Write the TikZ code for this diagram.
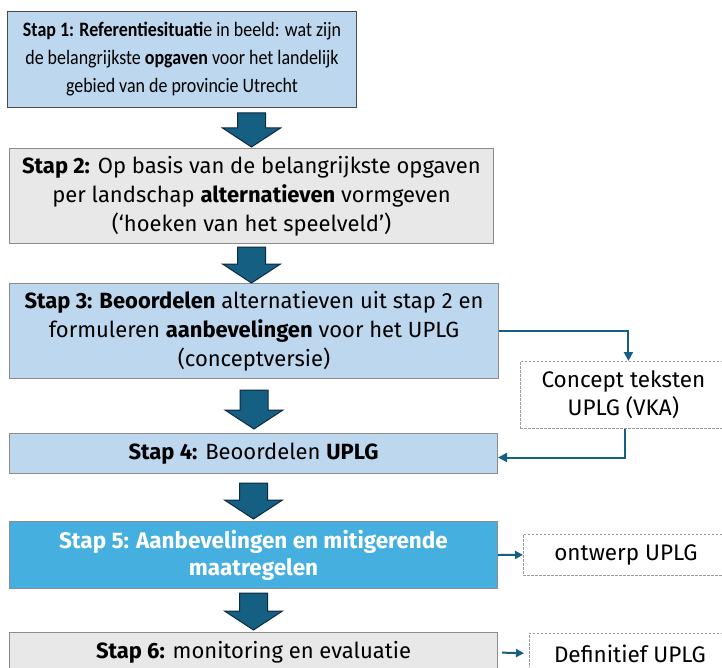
\documentclass[tikz,border=0pt]{standalone}
\usepackage{fontspec}
\setmainfont{Fira Sans}
\newfontfamily\narrowfont[FakeStretch=0.875]{Carlito}
\usetikzlibrary{calc,arrows.meta}

\definecolor{stepblue}{HTML}{BDD7EE}
\definecolor{stepgray}{HTML}{E8E8E8}
\definecolor{stepcyan}{HTML}{45AFE0}
\definecolor{boxline}{HTML}{8C8C8C}
\definecolor{darkline}{HTML}{4A4A4A}
\definecolor{flowfill}{HTML}{156082}
\definecolor{flowline}{HTML}{0E2841}
\definecolor{dashline}{HTML}{9A9A9A}

% broad downward block arrow between two points
\newcommand\blockarrow[2]{%
  \filldraw[fill=flowfill, draw=flowline, line width=1pt, line join=miter]
    let \p1=(#1), \p2=(#2) in
    (\x1-14pt,\y1) -- (\x1+14pt,\y1) -- (\x1+14pt,\y2+19pt) -- (\x1+29pt,\y2+19pt)
    -- (\x1,\y2) -- (\x1-29pt,\y2+19pt) -- (\x1-14pt,\y2+19pt) -- cycle;}

\begin{document}
\begin{tikzpicture}[x=1pt,y=-1pt,
  stepbox/.style={draw=boxline, line width=1pt, anchor=north west, inner sep=0pt,
    align=center, font=\fontsize{22}{29}\selectfont},
  outbox/.style={draw=dashline, line width=0.8pt, dash pattern=on 2.5pt off 1.5pt,
    anchor=north west, inner sep=0pt, align=center, font=\fontsize{22.5}{28}\selectfont},
  link/.style={draw=flowfill, line width=2pt,
    -{Triangle[length=9pt,width=9pt]}},
  shortlink/.style={draw=flowfill, line width=2pt,
    -{Triangle[length=8pt,width=8pt]}}]

\useasboundingbox (0,0) rectangle (722,668);
\clip (0,0) rectangle (722,668);

% process steps
\node[stepbox, draw=darkline, fill=stepblue, minimum width=349pt, minimum height=96pt,
  font=\narrowfont\fontsize{20.5}{28}\selectfont] (s1) at (7,11)
  {\textbf{Stap 1: Referentiesituati}e in beeld: wat zijn\\
   de belangrijkste \textbf{opgaven} voor het landelijk\\
   gebied van de provincie Utrecht};
\node[stepbox, fill=stepgray, minimum width=484pt, minimum height=95pt] (s2) at (9,148)
  {\textbf{Stap 2:} Op basis van de belangrijkste opgaven\\
   per landschap \textbf{alternatieven} vormgeven\\
   (‘hoeken van het speelveld’)};
\node[stepbox, fill=stepblue, minimum width=489pt, minimum height=95pt] (s3) at (9,283)
  {\textbf{Stap 3: Beoordelen} alternatieven uit stap 2 en\\
   formuleren \textbf{aanbevelingen} voor het UPLG\\
   (conceptversie)};
\node[stepbox, fill=stepblue, minimum width=488pt, minimum height=40pt] (s4) at (9,433)
  {\textbf{Stap 4:} Beoordelen \textbf{UPLG}};
\node[stepbox, fill=stepcyan, text=white, minimum width=488pt, minimum height=67pt,
  font=\bfseries\fontsize{22.5}{27}\selectfont] (s5) at (9,521)
  {Stap 5: Aanbevelingen en mitigerende\\ maatregelen};
\node[stepbox, fill=stepgray, minimum width=488pt, minimum height=40pt] (s6) at (9,632)
  {\textbf{Stap 6:} monitoring en evaluatie};

% products
\node[outbox, minimum width=206pt, minimum height=67pt] (c1) at (520,361)
  {Concept teksten\\ UPLG (VKA)};
\node[outbox, minimum width=205pt, minimum height=41pt] (c2) at (523,534)
  {ontwerp UPLG};
\node[outbox, minimum width=201pt, minimum height=40pt] (c3) at (529,633)
  {Definitief UPLG};

% flow between steps
\blockarrow{$(s1.south -| s2.north)+(0,5)$}{$(s2.north)+(0,-1)$}
\blockarrow{$(s2.south)+(0,3)$}{$(s3.north)$}
\blockarrow{$(s3.south)+(0,11)$}{$(s4.north)+(0,-4)$}
\blockarrow{$(s4.south)+(0,9)$}{$(s5.north)+(0,-2)$}
\blockarrow{$(s5.south)+(0,4)$}{$(s6.north)+(0,-2)$}

% links to products
\draw[link] (s3.east) -| ([xshift=5pt]c1.north);
\draw[link] ([xshift=2pt]c1.south) |- ([yshift=-4pt]s4.east);
\draw[shortlink] (s5.east) -- (c2.west);
\draw[shortlink, shorten <=4pt, shorten >=5pt] (s6.east) -- (c3.west);
\end{tikzpicture}
\end{document}
